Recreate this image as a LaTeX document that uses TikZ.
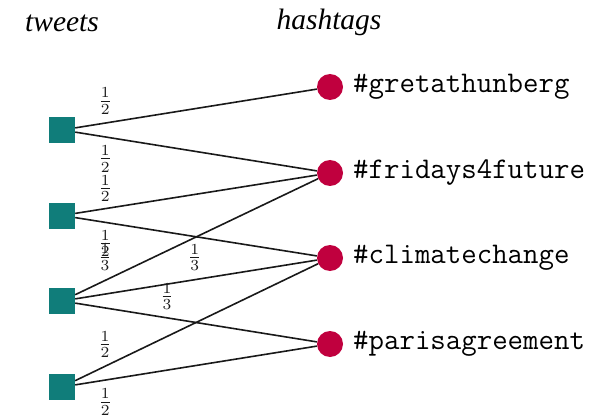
\documentclass[tikz,border=0pt]{standalone}
\usepackage{fontspec}
\usepackage{graphicx}
\newfontfamily\headfont{Liberation Serif}
\definecolor{tealc}{RGB}{16,125,122}
\definecolor{crim}{RGB}{192,0,62}
\newcommand{\wfrac}[2]{\scalebox{2.2}{$\frac{#1}{#2}$}}
\tikzset{
 tweet/.style={rectangle, fill=tealc, minimum size=26pt, inner sep=0pt},
 tag/.style={circle, fill=crim, minimum size=26pt, inner sep=0pt},
 edge/.style={line width=1.6pt, black!90},
 w/.style={font=\normalsize, inner sep=0pt},
 taglabel/.style={font=\ttfamily\fontsize{30}{34}\selectfont, anchor=west, inner sep=0pt},
 header/.style={font=\headfont\itshape\fontsize{29.5}{34}\selectfont, anchor=base, inner sep=0pt},
}
\begin{document}
\begin{tikzpicture}[x=1pt,y=-1pt]
\useasboundingbox (0,0) rectangle (608,417);
\node[header] (ht) at (62,32) {tweets};
\node[header] (hh) at (329,30) {hashtags};
\node[tweet] (t1) at (62,130) {};
\node[tweet] (t2) at (62,215.5) {};
\node[tweet] (t3) at (62,301) {};
\node[tweet] (t4) at (62,387) {};
\node[tag] (h1) at (330,87) {};
\node[tag] (h2) at (330,173) {};
\node[tag] (h3) at (330,258) {};
\node[tag] (h4) at (330,344) {};
\node[taglabel] (l1) at (353,87) {\#gretathunberg};
\node[taglabel] (l2) at (353,173) {\#fridays4future};
\node[taglabel] (l3) at (353,258) {\#climatechange};
\node[taglabel] (l4) at (353,344) {\#parisagreement};
\draw[edge] (t1) -- node[w, pos=0.124, yshift=22pt] (w1) {\wfrac{1}{2}} (h1);
\draw[edge] (t1) -- node[w, pos=0.124, yshift=-22pt] (w2) {\wfrac{1}{2}} (h2);
\draw[edge] (t2) -- node[w, pos=0.124, yshift=20pt] (w3) {\wfrac{1}{2}} (h2);
\draw[edge] (t2) -- node[w, pos=0.124, yshift=-21pt] (w4) {\wfrac{1}{2}} (h3);
\draw[edge] (t3) -- node[w, pos=0.123, yshift=23.5pt] (w5) {\wfrac{1}{3}} (h2);
\draw[edge] (t3) -- node[w, pos=0.494, yshift=22pt] (w6) {\wfrac{1}{3}} (h3);
\draw[edge] (t3) -- node[w, pos=0.38, yshift=21pt] (w7) {\wfrac{1}{3}} (h4);
\draw[edge] (t4) -- node[w, pos=0.123, yshift=22pt] (w8) {\wfrac{1}{2}} (h3);
\draw[edge] (t4) -- node[w, pos=0.124, yshift=-22pt] (w9) {\wfrac{1}{2}} (h4);
\end{tikzpicture}
\end{document}
